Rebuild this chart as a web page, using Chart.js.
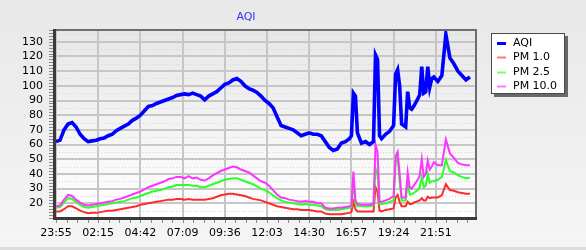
<!DOCTYPE html>
<html>
<head>
<meta charset="utf-8">
<script src="https://cdn.jsdelivr.net/npm/chart.js@4.4.1/dist/chart.umd.min.js"></script>
<style>
  html, body { margin: 0; padding: 0; background: #ebebeb; }
  #wrap { width: 586px; height: 250px; }
</style>
</head>
<body>
<div id="wrap"><canvas id="aqiChart" width="586" height="250"></canvas></div>
<script>
// minutes from the first grid line
const times = [0,14,28,42,56,70,84,98,112,126,140,154,168,182,196,210,224,238,252,266,
  280,294,308,322,336,350,364,378,392,406,420,434,448,462,476,490,504,518,532,546,
  560,574,588,602,616,630,644,658,672,686,700,714,728,742,756,770,784,798,812,826,
  840,854,868,882,896,910,924,938,952,966,980,994,1008,1022,1029,1036,1043,1050,
  1064,1078,1092,1106,1113,1120,1127,1134,1148,1162,1176,1183,1190,1197,1204,1218,
  1225,1232,1239,1246,1260,1267,1274,1281,1288,1295,1302,1309,1316,1330,1344,1358,
  1372,1386,1400,1414,1428,1442];

const aqi = [62,63,70,74,75,72,67,64,62,62.5,
  63,64,64.5,66,67,69.5,71,72.5,74,76.5,
  78,80,83,86,86.5,88,89,90,91,92,
  93.5,94,94.5,94,95,94,93,90.5,93,94.5,
  96,98.5,101,102,104,105,103,100,98,97,
  95.5,93,90,88,85,79,73,72,71,70,
  68,66,67,68,67,67,66,62,58,56,
  57,61,62,64,66,95,93,68,
  61,62,60,62,121,118,66,64,67,69,73,108,111,100,74,72,
  96,85,84,86,91,94,113,95,96,113,99,105,106,103,107,135,
  119,115,110,107,104,106];

const pm1 = [14.4,14.5,16,18,18,16.5,15,14,13.2,13.5,
  13.5,14,14.5,15,15,15.5,16,16.5,17,17.5,
  18,19,19.5,20,20.5,21,21.5,22,22.5,22.5,
  23,23,22.5,23,22.5,22.5,22.5,22.5,23,23.5,
  24.5,25.5,26,26.5,26.5,26,25.5,25,24,23,
  22.5,22,21,20,19,18,17.5,17,16.5,16,
  16,15.5,15.5,15.5,15,14.5,14.5,13,12.5,12.5,
  12.5,12.5,13,13.5,14,21,16,14.5,
  14.5,14.5,14.5,14.5,31,28,15,14.5,15.5,16,16.5,24,25.7,21,18,18,
  21,19.5,19.5,20.5,21.5,22,23.5,22,22,24.5,23.5,24,24,24,25.5,33,
  29,28.5,27.5,27,26.5,26.5];

const pm25 = [17,17.5,20.5,23.5,23,21,19,17.5,17,17.5,
  18,18.5,19,19.5,20,20.5,21,21.5,22.5,23.5,
  24,25,26,27,28,28.5,29,30,31,31.5,
  32.5,32.5,32.5,32.5,32,32,31,31,32,33,
  34,35,36,36.5,37,37,36,35,34,33,
  31.5,30,29,27.5,25.5,23.5,22,21,20.5,20,
  19.5,19,19.5,19,19,18.5,18,16,15.5,15.5,
  15.5,16,16.5,17,17.5,37,20,18,
  18,18,18,18.5,44,40,19.5,19.5,20,21,22,48,52,35,22,22,
  35,26,26,27,29,31,38,31,32,40,34,35,35,36,38,49.5,
  42,41,39,38,37,37.5];

const pm10 = [18,18.5,22.5,25.7,25,22.5,20.5,19,18.5,19,
  19.5,20,20.5,21,21.5,22.5,23,24,25,26,
  27,28,29.5,31,32,33,34,35,36.5,37,
  38,38,37,38.5,37,37.5,36,35.5,37,39,
  40.5,42,43,44,45,44.5,43,42,41,39,
  37,35,34,32,29,26,24,23.5,22.5,22,
  21.5,21,21.5,21,21,20,20,17,16.5,16.5,
  17,17,17.5,18,18.5,41.6,22,19.5,
  19,19,19,19.5,60,55,21,21,22,23,25,52,55,40,24,24,
  41,31,30,32,36,39,50,38,40,49,43,45,48,46,46,63.5,
  54,51,47.5,46.5,46,46];

const xTickMinutes = [0,147,294,441,588,735,882,1029,1176,1323];
const xTickLabels = ['23:55','02:15','04:42','07:09','09:36','12:03','14:30','16:57','19:24','21:51'];
const yTicks = [20,30,40,50,60,70,80,90,100,110,120,130];

const seriesNames = ['AQI', 'PM 1.0', 'PM 2.5', 'PM 10.0'];
const lineColors = ['#0000ff', '#ff2a2a', '#2bff2b', '#ff33ff'];
const legendColors = ['#0000ff', '#ff7777', '#77ff77', '#ff77ff'];

const FONT = '"DejaVu Sans", Verdana, sans-serif';

function pts(vals) {
    return vals.map((v, i) => ({ x: times[i], y: v }));
}

const framePlugin = {
    id: 'frame',
    beforeDraw(chart) {
        const { ctx, chartArea: a } = chart;
        const ys = chart.scales.y;
        ctx.save();
        let g = ctx.createLinearGradient(0, 0, 0, 250);
        g.addColorStop(0, '#e8e8e8');
        g.addColorStop(1, '#f5f5f5');
        ctx.fillStyle = g;
        ctx.fillRect(0, 0, 586, 250);
        ctx.fillStyle = '#dddddd';
        ctx.fillRect(0, 247, 586, 3);

        g = ctx.createLinearGradient(0, a.top, 0, a.bottom);
        g.addColorStop(0, '#e7e7e7');
        g.addColorStop(1, '#ffffff');
        ctx.fillStyle = g;
        ctx.fillRect(a.left, a.top, a.width, a.height);

        // dotted half lines
        ctx.strokeStyle = '#d6d6d6';
        ctx.lineWidth = 1;
        ctx.setLineDash([1, 2]);
        for (let v = 15; v < 138; v += 10) {
            const y = Math.round(ys.getPixelForValue(v)) + 0.5;
            ctx.beginPath();
            ctx.moveTo(a.left, y);
            ctx.lineTo(a.right, y);
            ctx.stroke();
        }
        ctx.restore();
    },
    afterDraw(chart) {
        const { ctx, chartArea: a } = chart;
        const xs = chart.scales.x, ys = chart.scales.y;
        ctx.save();

        // top / right border
        ctx.strokeStyle = '#6e6e6e';
        ctx.lineWidth = 2;
        ctx.beginPath();
        ctx.moveTo(a.left, a.top);
        ctx.lineTo(a.right, a.top);
        ctx.lineTo(a.right, a.bottom);
        ctx.stroke();

        // left / bottom axis
        ctx.fillStyle = '#3a3a3a';
        ctx.fillRect(a.left - 3, a.top - 1, 3, a.bottom - a.top + 3);
        ctx.fillRect(a.left - 3, a.bottom - 1, a.width + 4, 3);

        // minor ticks
        ctx.fillStyle = '#8a8a8a';
        for (let v = 10; v <= 138; v += 2) {
            const y = Math.round(ys.getPixelForValue(v));
            ctx.fillRect(a.left - 7, y, 4, 1);
        }
        for (let m = 0; m <= 1463; m += 147 / 4) {
            const x = Math.round(xs.getPixelForValue(m));
            ctx.fillRect(x, a.bottom + 2, 1, 3);
        }

        // title
        ctx.fillStyle = '#3030ff';
        ctx.font = '11px ' + FONT;
        ctx.textAlign = 'center';
        ctx.textBaseline = 'middle';
        ctx.fillText('AQI', 246, 17);

        // legend
        const lx = 491, ly = 33, lw = 74, lh = 61;
        ctx.fillStyle = 'rgba(60,60,60,0.75)';
        ctx.fillRect(lx + 3, ly + 3, lw, lh);
        ctx.fillStyle = '#ffffff';
        ctx.fillRect(lx, ly, lw, lh);
        ctx.strokeStyle = '#4a4a4a';
        ctx.lineWidth = 1;
        ctx.strokeRect(lx + 0.5, ly + 0.5, lw - 1, lh - 1);
        ctx.textAlign = 'left';
        seriesNames.forEach((name, i) => {
            const y = ly + 9.5 + i * 14.5;
            ctx.strokeStyle = legendColors[i];
            ctx.lineWidth = i === 0 ? 3 : 2;
            ctx.beginPath();
            ctx.moveTo(497, Math.round(y) + 0.5);
            ctx.lineTo(506, Math.round(y) + 0.5);
            ctx.stroke();
            ctx.fillStyle = '#000000';
            ctx.fillText(name, 513, y + 0.5);
        });
        ctx.restore();
    }
};

new Chart(document.getElementById('aqiChart'), {
    type: 'line',
    data: {
        datasets: [
            { label: seriesNames[0], data: pts(aqi), borderColor: lineColors[0], borderWidth: 3.6 },
            { label: seriesNames[3], data: pts(pm10), borderColor: lineColors[3], borderWidth: 2 },
            { label: seriesNames[2], data: pts(pm25), borderColor: lineColors[2], borderWidth: 2 },
            { label: seriesNames[1], data: pts(pm1), borderColor: lineColors[1], borderWidth: 2 }
        ]
    },
    options: {
        responsive: false,
        animation: false,
        devicePixelRatio: 1,
        layout: { padding: { left: 0, top: 30, right: 110, bottom: 0 } },
        elements: { point: { radius: 0 }, line: { tension: 0, fill: false } },
        plugins: {
            legend: { display: false },
            title: { display: false },
            tooltip: { enabled: false }
        },
        scales: {
            x: {
                type: 'linear',
                min: 0,
                max: 1463,
                afterBuildTicks: s => { s.ticks = xTickMinutes.map(v => ({ value: v })); },
                afterFit: s => { s.height = 32; },
                border: { display: false },
                grid: { color: '#c6c6c6', lineWidth: 2, drawTicks: false },
                ticks: {
                    color: '#000000',
                    font: { family: FONT, size: 11 },
                    padding: 9,
                    maxRotation: 0,
                    autoSkip: false,
                    callback: (v, i) => xTickLabels[i]
                }
            },
            y: {
                min: 10,
                max: 138,
                afterBuildTicks: s => { s.ticks = yTicks.map(v => ({ value: v })); },
                afterFit: s => { s.width = 56; },
                border: { display: false },
                grid: { color: '#c6c6c6', lineWidth: 2, drawTicks: false },
                ticks: {
                    color: '#000000',
                    font: { family: FONT, size: 11 },
                    padding: 13
                }
            }
        }
    },
    plugins: [framePlugin]
});
</script>
</body>
</html>
